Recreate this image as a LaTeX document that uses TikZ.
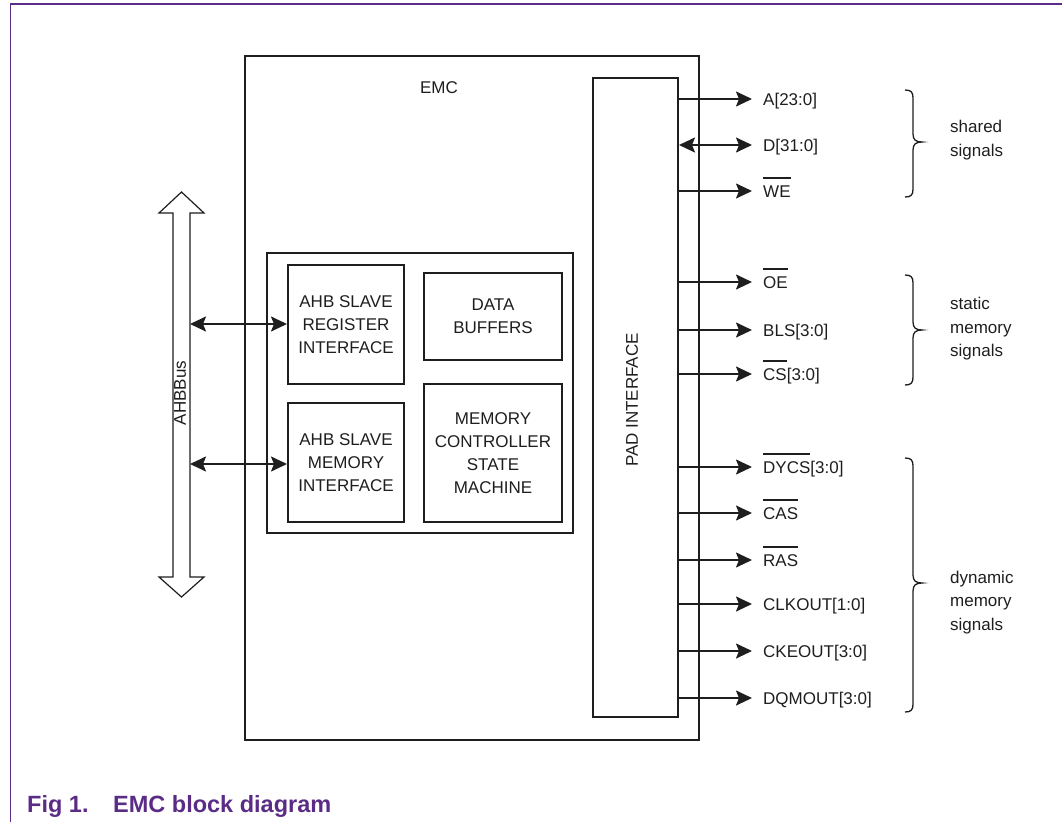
\documentclass[tikz,border=0pt]{standalone}
\usepackage{fontspec}
\setmainfont{Liberation Sans}
\usetikzlibrary{arrows.meta}
\definecolor{nxp}{RGB}{91,44,134}
\definecolor{ink}{RGB}{30,30,30}
\newcommand\obar[1]{\vbox{\hrule height 1.6pt\kern 6.5pt\hbox{#1}}}
\begin{document}
\begin{tikzpicture}[x=1pt,y=-1pt,
  >={Stealth[length=16pt,width=15pt,inset=3pt]},
  every node/.style={font=\fontsize{17}{23}\selectfont, text=ink, inner sep=0pt},
  blk/.style={draw=ink, line width=2pt, align=center},
  sig/.style={draw=ink, line width=2pt, ->},
  dsig/.style={draw=ink, line width=2pt, <->},
  lbl/.style={anchor=base west},
  grp/.style={anchor=west, align=left, font=\fontsize{17}{23.5}\selectfont},
  brc/.style={draw=ink, line width=1.3pt},
  captxt/.style={anchor=base west, text=nxp, font=\fontsize{23.5}{28}\selectfont\bfseries}]
\useasboundingbox (0,0) rectangle (1062,822);
% page frame
\draw[nxp, line width=1.5pt] (10.5,822) -- (10.5,4) -- (1062,4);
% EMC outer box
\node[blk, minimum width=454, minimum height=684] (emc) at (472,398) {};
\node (emclbl) at (439,88) {EMC};
% inner box
\node[blk, minimum width=306, minimum height=280] (inner) at (420,393) {};
\node[blk, minimum width=116, minimum height=119] (reg) at (346,324.5) {AHB SLAVE\\REGISTER\\INTERFACE};
\node[blk, minimum width=138, minimum height=87] (buf) at (493,316.5) {DATA\\BUFFERS};
\node[blk, minimum width=116, minimum height=119] (mem) at (346,462.5) {AHB SLAVE\\MEMORY\\INTERFACE};
\node[blk, minimum width=138, minimum height=138] (msm) at (493,453) {MEMORY\\CONTROLLER\\STATE\\MACHINE};
% pad interface
\node[blk, minimum width=85, minimum height=639] (pad) at (635.5,397.5) {};
\node[rotate=90] (padlbl) at (632,400) {PAD INTERFACE};
% AHB bus
\draw[ink, line width=1.2pt, fill=white] (181.5,192) -- (204,213) -- (190,213) -- (190,577) -- (204,577)
  -- (181.5,597) -- (159,577) -- (173,577) -- (173,213) -- (159,213) -- cycle;
\node[rotate=90] (buslbl) at (180,393) {AHBBus};
\coordinate (b1) at (190,324);
\coordinate (b2) at (190,464);
\draw[dsig] (b1) -- (reg.west |- b1);
\draw[dsig] (b2) -- (mem.west |- b2);
% signals
\foreach \y/\t/\n in {99/A[23:0]/a, 191/\obar{WE}/we, 282/\obar{OE}/oe, 330/BLS[3:0]/bls,
  374/\obar{CS}[3:0]/cs, 467/\obar{DYCS}[3:0]/dycs, 513/\obar{CAS}/cas, 560/\obar{RAS}/ras,
  604/CLKOUT[1:0]/clk, 651/CKEOUT[3:0]/cke, 698/DQMOUT[3:0]/dqm}{
  \coordinate (t\n) at (752,\y);
  \draw[sig] (pad.east |- t\n) -- (t\n);
  \node[lbl] (l\n) at (763,\y+6) {\t};
}
\coordinate (td) at (752,145);
\draw[dsig] (pad.east |- td) -- (td);
\node[lbl] (ld) at (763,151) {D[31:0]};
% braces
\foreach \a/\m/\b in {90/142/197, 275/330/385, 458/583/712}{
  \draw[brc] (905,\a) .. controls (911,\a) and (913,\a+2) .. (913,\a+8) -- (913,\m-8)
    .. controls (913,\m-2) and (916,\m) .. (922,\m) .. controls (916,\m) and (913,\m+2) .. (913,\m+8)
    -- (913,\b-8) .. controls (913,\b-2) and (911,\b) .. (905,\b);
}
\node[grp] (gs) at (950,140) {shared\\signals};
\node[grp] (gst) at (950,329) {static\\memory\\signals};
\node[grp] (gd) at (950,602.5) {dynamic\\memory\\signals};
% caption
\node[captxt] (cap1) at (27,812) {Fig 1.};
\node[captxt] (cap2) at (113,812) {EMC block diagram};
\end{tikzpicture}
\end{document}
